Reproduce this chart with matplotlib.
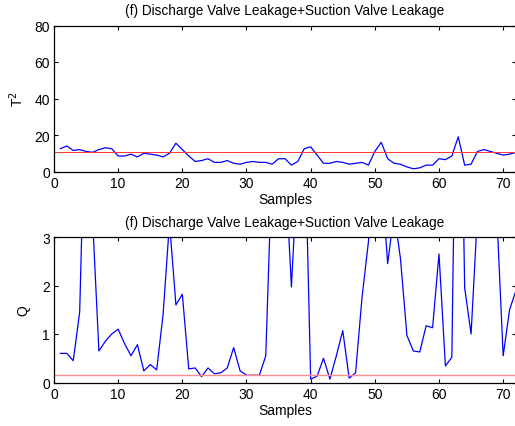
import matplotlib
matplotlib.use("Agg")
import matplotlib.pyplot as plt
import numpy as np

plt.rcParams['font.family'] = ['Liberation Sans', 'DejaVu Sans']

title = "(f) Discharge Valve Leakage+Suction Valve Leakage"
samples = list(range(1, 73))
t2_values = [12.5, 14, 11.5, 12, 11, 10.5, 12, 13, 12.5, 8.5,
             8.5, 9.5, 8, 10, 9.5, 9, 8, 10, 15.5, 12,
             8.5, 5.5, 6, 7, 5, 5, 6, 4.5, 4, 5,
             5.5, 5, 5, 4, 7, 7, 3.5, 5.5, 12.5, 13.5,
             9, 4.5, 4.5, 5.5, 5, 4, 4.5, 5, 3.5, 11,
             16, 7, 4.5, 4, 2.5, 1.5, 2, 3.5, 3.5, 7,
             6.5, 8.5, 19, 3.5, 4, 11, 12, 11, 10, 9,
             9.5, 10.5]
t2_limit = 10.9
q_values = [0.6, 0.6, 0.45, 1.45, 6.5, 3.4, 0.65, 0.85, 1.0, 1.1,
            0.8, 0.55, 0.78, 0.24, 0.37, 0.26, 1.4, 3.3, 1.6, 1.82,
            0.28, 0.3, 0.12, 0.3, 0.18, 0.2, 0.3, 0.72, 0.24, 0.15,
            0.15, 0.15, 0.55, 4.6, 8.0, 4.55, 1.97, 4.55, 5.7, 0.07,
            0.13, 0.5, 0.07, 0.55, 1.07, 0.09, 0.2, 1.75, 2.9, 5.0,
            4.3, 2.45, 3.5, 2.55, 0.97, 0.65, 0.63, 1.17, 1.13, 2.65,
            0.34, 0.52, 10.0, 1.95, 1.0, 3.5, 6.0, 7.0, 3.5, 0.55,
            1.5, 1.9]
q_limit = 0.15

fig = plt.figure(figsize=(5.15, 4.27), dpi=100)
W, H = 515, 427
ax1 = fig.add_axes([54 / W, 1 - 172.5 / H, (516 - 54) / W, (172.5 - 26.5) / H])
ax2 = fig.add_axes([54 / W, 1 - 383.5 / H, (516 - 54) / W, (383.5 - 238) / H])

def style(ax):
    ax.tick_params(direction='in', top=True, right=True, length=3, width=0.8,
                   labelsize=10, pad=3)
    for s in ax.spines.values():
        s.set_linewidth(0.9)
    ax.set_xlim(0, 72)
    ax.set_xticks(range(0, 71, 10))
    ax.set_xlabel("Samples", fontsize=10, labelpad=2)
    ax.set_title(title, fontsize=9.8, pad=8)

ax1.plot(samples, t2_values, color='blue', lw=0.9)
ax1.axhline(t2_limit, color=(1.0, 0.2, 0.2), lw=0.7)
ax1.set_ylim(0, 80)
ax1.set_yticks(range(0, 81, 20))
ax1.set_ylabel("T$^2$", fontsize=10, labelpad=6)
style(ax1)

ax2.plot(samples, q_values, color='blue', lw=0.9)
ax2.axhline(q_limit, color=(1.0, 0.55, 0.55), lw=1.0)
ax2.set_ylim(0, 3)
ax2.set_yticks([0, 1, 2, 3])
ax2.set_ylabel("Q", fontsize=10, labelpad=8)
style(ax2)

fig.savefig("out.png", dpi=100)
